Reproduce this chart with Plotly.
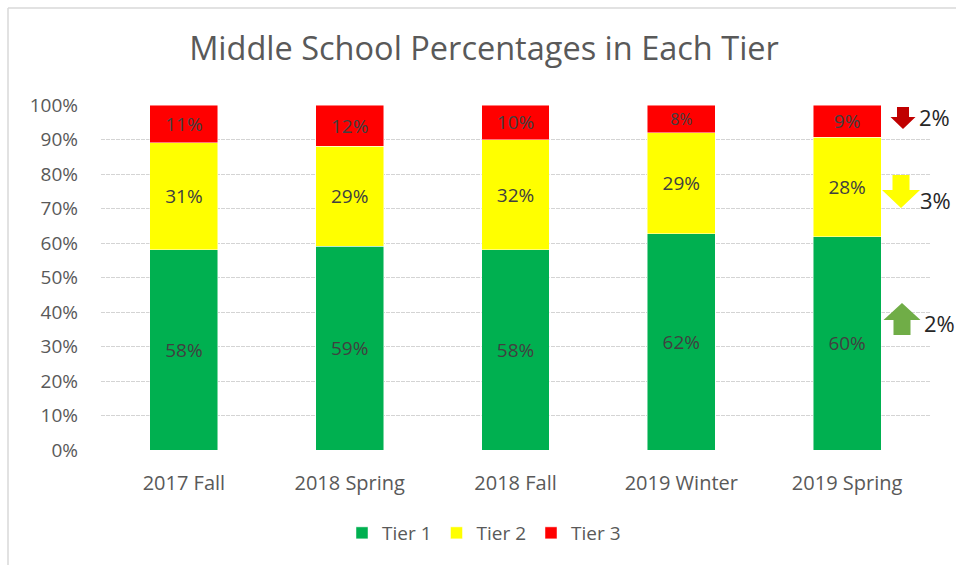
import plotly.graph_objects as go

# Terms and tier shares (percent of students)
terms = ["2017 Fall", "2018 Spring", "2018 Fall", "2019 Winter", "2019 Spring"]
tier1 = [58, 59, 58, 62, 60]
tier2 = [31, 29, 32, 29, 28]
tier3 = [11, 12, 10, 8, 9]
tier_names = ["Tier 1", "Tier 2", "Tier 3"]
tier_colors = ["#00B050", "#FFFF00", "#FF0000"]

# Change markers on the right side: (label, direction, colour)
changes = [("2%", "down", "#C00000"), ("3%", "down", "#FFFF00"), ("2%", "up", "#70AD47")]

FONT = "Open Sans, sans-serif"
W, H = 956, 565
L, R, T, B = 101, 26, 105, 115
PW, PH = W - L - R, H - T - B


def px(x):
    return (x - L) / PW


def py(y):
    return (H - B - y) / PH


fig = go.Figure()
for name, vals, col in zip(tier_names, [tier1, tier2, tier3], tier_colors):
    fig.add_trace(go.Bar(
        x=terms, y=vals, name=name,
        marker=dict(color=col, line=dict(color="rgba(255,255,255,0.6)", width=0.8)),
        text=[f"{v}%" for v in vals], texttemplate="%{text}",
        textposition="inside", insidetextanchor="middle",
        textfont=dict(family=FONT, size=19, color="#404040"),
        width=0.41, hoverinfo="skip",
    ))


def arrow_path(cx, top, bot, shaft_w, head_w, head_len, direction):
    hs, hh = shaft_w / 2, head_w / 2
    if direction == "down":
        mid = bot - head_len
        pts = [(cx - hs, top), (cx + hs, top), (cx + hs, mid), (cx + hh, mid),
               (cx, bot), (cx - hh, mid), (cx - hs, mid)]
    else:
        mid = top + head_len
        pts = [(cx, top), (cx + hh, mid), (cx + hs, mid), (cx + hs, bot),
               (cx - hs, bot), (cx - hs, mid), (cx - hh, mid)]
    return "M " + " L ".join(f"{px(x):.5f},{py(y):.5f}" for x, y in pts) + " Z"


# geometry in pixels: (centre x, top, bottom, shaft width, head width, head length, label x, label y)
geom = [
    (903, 107, 129, 12, 25, 12, 934, 117),
    (901, 175, 208, 17, 38, 18, 936, 200),
    (902, 303, 335, 17, 37, 17, 939, 323),
]
for (lab, direction, col), (cx, top, bot, sw, hw, hl, tx, ty) in zip(changes, geom):
    fig.add_shape(type="path", xref="paper", yref="paper",
                  path=arrow_path(cx, top, bot, sw, hw, hl, direction),
                  fillcolor=col, line=dict(width=0), layer="above")
    fig.add_annotation(xref="paper", yref="paper", x=px(tx), y=py(ty),
                       text=lab, showarrow=False, xanchor="center", yanchor="middle",
                       font=dict(family=FONT, size=22, color="#262626"))

# chart frame (top and left edges)
fig.add_shape(type="line", xref="paper", yref="paper", x0=px(8), x1=px(W), y0=py(8), y1=py(8),
              line=dict(color="#D9D9D9", width=1.5))
fig.add_shape(type="line", xref="paper", yref="paper", x0=px(8), x1=px(8), y0=py(8), y1=py(H),
              line=dict(color="#D9D9D9", width=1.5))

fig.update_layout(
    width=W, height=H,
    margin=dict(l=L, r=R, t=T, b=B),
    barmode="stack", barnorm="percent",
    paper_bgcolor="white", plot_bgcolor="white",
    title=dict(text="Middle School Percentages in Each Tier", x=484 / W, xanchor="center",
               y=1 - 49 / H, yanchor="middle",
               font=dict(family=FONT, size=32.5, color="#595959")),
    font=dict(family=FONT, color="#595959"),
    legend=dict(orientation="h", x=px(484), xanchor="center", y=py(533), yanchor="middle",
                font=dict(size=19, color="#595959"), itemwidth=30, traceorder="normal"),
    xaxis=dict(showgrid=False, showline=False, ticks="", ticklabelstandoff=19,
               tickfont=dict(size=20, color="#595959")),
    yaxis=dict(range=[0, 100], dtick=10, ticksuffix="%", showline=False, zeroline=False,
               gridcolor="#D4D4D4", griddash="4px,1px", gridwidth=1, ticklabelstandoff=22,
               tickfont=dict(size=19, color="#595959")),
)

fig.write_html("out.html")
